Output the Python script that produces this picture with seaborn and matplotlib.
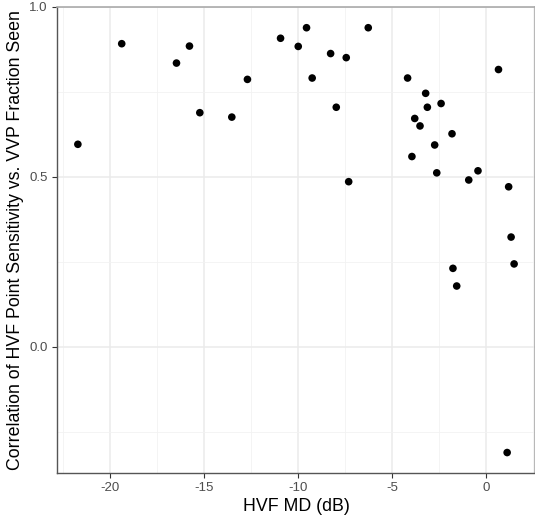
import matplotlib
matplotlib.use("Agg")
import matplotlib.pyplot as plt
from matplotlib.ticker import MultipleLocator
import seaborn as sns
import pandas as pd

hvf_md = [-21.69, -19.36, -16.45, -15.76, -15.21, -13.51, -12.68,
          -10.92, -9.98, -9.54, -9.24, -8.26, -7.96, -7.43, -7.30, -6.26,
          -4.17, -3.21, -3.12, -2.39, -3.79, -3.51, -1.81, -2.73, -3.94,
          -2.62, -0.92, -0.43, 1.20, 1.33, 0.66, -1.76, -1.56, 1.49, 1.12]
corr = [0.596, 0.892, 0.835, 0.885, 0.689, 0.676, 0.787,
        0.908, 0.884, 0.939, 0.791, 0.863, 0.705, 0.851, 0.486, 0.939,
        0.791, 0.746, 0.705, 0.716, 0.672, 0.650, 0.627, 0.594, 0.560,
        0.512, 0.491, 0.518, 0.471, 0.323, 0.816, 0.231, 0.179, 0.244, -0.311]

x_ticks = [-20, -15, -10, -5, 0]
y_ticks = [0.0, 0.5, 1.0]
y_tick_labels = ["0.0", "0.5", "1.0"]

df = pd.DataFrame({"md": hvf_md, "corr": corr})

sns.set_theme(style="white")
plt.rcParams["font.family"] = ["Liberation Sans", "DejaVu Sans"]

fig = plt.figure(figsize=(5.35, 5.18), dpi=100)
ax = fig.add_axes([0.1065, 0.087, 0.8935, 0.8995])

sns.scatterplot(data=df, x="md", y="corr", ax=ax, color="black", s=30,
                edgecolor="none", zorder=3)

ax.set_xlim(-22.8, 2.6)
ax.set_ylim(-0.371, 1.0)
ax.set_xticks(x_ticks)
ax.set_xticklabels([str(t) for t in x_ticks])
ax.set_yticks(y_ticks)
ax.set_yticklabels(y_tick_labels)
ax.xaxis.set_minor_locator(MultipleLocator(2.5))
ax.yaxis.set_minor_locator(MultipleLocator(0.25))

ax.grid(which="major", color="#EBEBEB", linewidth=1.1)
ax.grid(which="minor", color="#F2F2F2", linewidth=0.6)
ax.set_axisbelow(True)

for side in ["top", "right"]:
    ax.spines[side].set_color("#AAAAAA")
    ax.spines[side].set_linewidth(1.2)
for side in ["left", "bottom"]:
    ax.spines[side].set_color("#555555")
    ax.spines[side].set_linewidth(1.0)

ax.tick_params(which="major", axis="both", length=3.5, width=0.8,
               color="#333333", labelcolor="#4D4D4D", labelsize=9.5,
               bottom=True, left=True, pad=3)
ax.tick_params(which="minor", length=0)

ax.set_xlabel("HVF MD (dB)", fontsize=12.8, color="black", labelpad=3)
ax.set_ylabel("Correlation of HVF Point Sensitivity vs. VVP Fraction Seen",
              fontsize=12.8, color="black", labelpad=4)

fig.savefig("out.png", dpi=100)
